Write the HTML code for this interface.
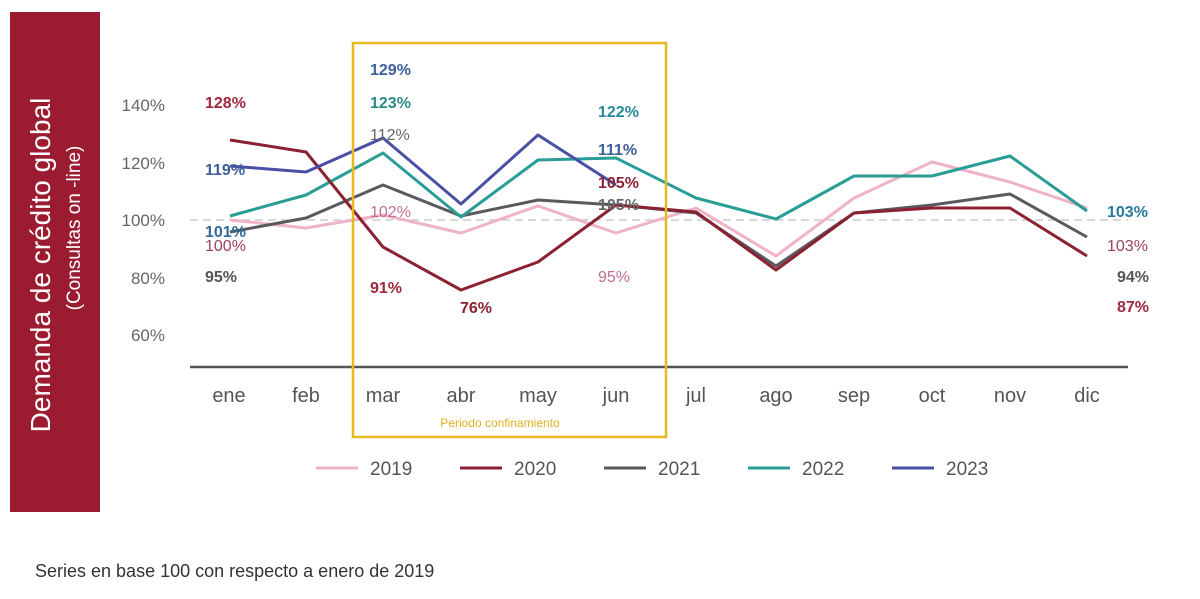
<!DOCTYPE html>
<html><head><meta charset="utf-8"><style>
body{margin:0;background:#fff;width:1200px;height:594px;overflow:hidden;font-family:"Liberation Sans",sans-serif}
</style></head><body>
<svg width="1200" height="594" xmlns="http://www.w3.org/2000/svg" font-family="Liberation Sans, sans-serif">
<rect x="10" y="12" width="90" height="500" fill="#9b1b30"/>
<text transform="translate(50,265) rotate(-90)" text-anchor="middle" fill="#fff" font-size="28">Demanda de crédito global</text>
<text transform="translate(80,228) rotate(-90)" text-anchor="middle" fill="#fff" font-size="19">(Consultas on -line)</text>
<g fill="#666" font-size="17" text-anchor="end">
<text x="165" y="111">140%</text><text x="165" y="169">120%</text><text x="165" y="226">100%</text><text x="165" y="284">80%</text><text x="165" y="341">60%</text>
</g>
<line x1="190" y1="220" x2="1128" y2="220" stroke="#ccc" stroke-width="1.5" stroke-dasharray="8,5"/>
<line x1="190" y1="367" x2="1128" y2="367" stroke="#555" stroke-width="2.5"/>
<g fill="#555" font-size="20" text-anchor="middle">
<text x="229" y="402">ene</text><text x="306" y="402">feb</text><text x="383" y="402">mar</text><text x="461" y="402">abr</text><text x="538" y="402">may</text><text x="616" y="402">jun</text><text x="696" y="402">jul</text><text x="776" y="402">ago</text><text x="854" y="402">sep</text><text x="932" y="402">oct</text><text x="1010" y="402">nov</text><text x="1087" y="402">dic</text>
</g>
<g fill="none" stroke-width="3" stroke-linejoin="round">
<polyline stroke="#efb3c6" points="230,220 306,228 383,215 461,233 538,206 616,233 696,208 776,256 854,198 932,162 1010,182 1087,208"/>
<polyline stroke="#5a5a5e" points="230,232 306,218 383,185 461,216 538,200 616,205 696,213 776,266 854,213 932,205 1010,194 1087,237"/>
<polyline stroke="#2a9d94" points="230,216 306,195 383,153 461,217 538,160 616,158 696,198 776,219 854,176 932,176 1010,156 1087,211"/>
<polyline stroke="#8b2232" points="230,140 306,152 383,247 461,290 538,262 616,205 696,212 776,270 854,213 932,208 1010,208 1087,256"/>
<polyline stroke="#4a4fa6" points="230,166 306,172 383,138 461,204 538,135 616,185"/>
</g>
<rect x="353" y="43" width="313" height="394" fill="none" stroke="#e8b820" stroke-width="2.5"/>
<text x="500" y="427" fill="#e0b020" font-size="12" text-anchor="middle">Periodo confinamiento</text>
<g font-size="16" font-weight="bold">
<text x="205" y="108" fill="#a0283e">128%</text>
<text x="205" y="175" fill="#3d5f9a">119%</text>
<text x="205" y="237" fill="#2f6a9a">101%</text>
<text x="205" y="251" fill="#a04060" font-weight="normal">100%</text>
<text x="205" y="282" fill="#555">95%</text>
<text x="370" y="75" fill="#3d5f9a">129%</text>
<text x="370" y="108" fill="#2a8a8a">123%</text>
<text x="370" y="140" fill="#666" font-weight="normal">112%</text>
<text x="370" y="217" fill="#c07090" font-weight="normal">102%</text>
<text x="370" y="293" fill="#a0283e">91%</text>
<text x="460" y="313" fill="#8b2232">76%</text>
<text x="598" y="117" fill="#2a8a9a">122%</text>
<text x="598" y="155" fill="#3d5f9a">111%</text>
<text x="598" y="188" fill="#8b2232">105%</text>
<text x="598" y="210" fill="#666">105%</text>
<text x="598" y="282" fill="#c07090" font-weight="normal">95%</text>
<text x="1107" y="217" fill="#2a7aa0">103%</text>
<text x="1107" y="251" fill="#a04060" font-weight="normal">103%</text>
<text x="1117" y="282" fill="#555">94%</text>
<text x="1117" y="312" fill="#a0283e">87%</text>
</g>
<g font-size="19" fill="#555">
<line x1="316" y1="468" x2="358" y2="468" stroke="#efb3c6" stroke-width="3"/><text x="370" y="475">2019</text>
<line x1="460" y1="468" x2="502" y2="468" stroke="#8b2232" stroke-width="3"/><text x="514" y="475">2020</text>
<line x1="604" y1="468" x2="646" y2="468" stroke="#5a5a5e" stroke-width="3"/><text x="658" y="475">2021</text>
<line x1="748" y1="468" x2="790" y2="468" stroke="#2a9d94" stroke-width="3"/><text x="802" y="475">2022</text>
<line x1="892" y1="468" x2="934" y2="468" stroke="#4a4fa6" stroke-width="3"/><text x="946" y="475">2023</text>
</g>
<text x="35" y="577" font-size="18" fill="#333">Series en base 100 con respecto a enero de 2019</text>
</svg>
</body></html>
